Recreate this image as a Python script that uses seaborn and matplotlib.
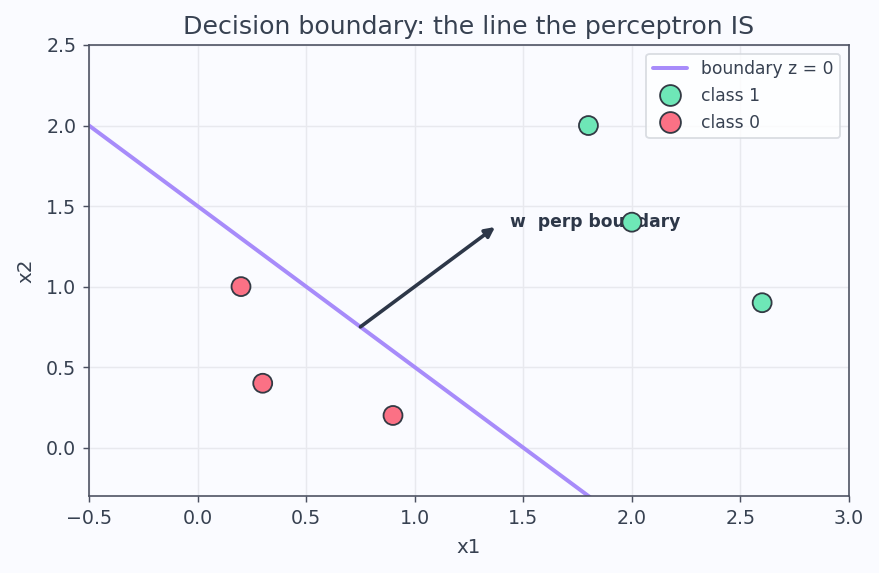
import numpy as np
import pandas as pd
import seaborn as sns
import matplotlib.pyplot as plt

# dados
class1_x1 = [1.8, 2.0, 2.6]
class1_x2 = [2.0, 1.4, 0.9]
class0_x1 = [0.2, 0.3, 0.9]
class0_x2 = [1.0, 0.4, 0.2]
w = [1.0, 1.0]
b = -1.5
line_x1 = [-0.5, 3.0]

df_pts = pd.DataFrame({
    'x1': class1_x1 + class0_x1,
    'x2': class1_x2 + class0_x2,
    'classe': ['class 1'] * 3 + ['class 0'] * 3,
})
df_line = pd.DataFrame({'x1': line_x1})
df_line['x2'] = -(w[0] * df_line['x1'] + b) / w[1]

bg = '#fafbff'
txt = '#374151'
sns.set_style("whitegrid", {'axes.facecolor': bg, 'figure.facecolor': bg,
                            'grid.color': '#e8e9ee', 'axes.edgecolor': '#4b5060'})
plt.rcParams['text.color'] = txt
plt.rcParams['axes.labelcolor'] = txt
plt.rcParams['xtick.color'] = txt
plt.rcParams['ytick.color'] = txt

dpi = 130
fig = plt.figure(figsize=(879 / dpi, 573 / dpi), dpi=dpi)
ax = fig.add_axes([89 / 879, 1 - 496 / 573, 760 / 879, 451 / 573])

sns.lineplot(data=df_line, x='x1', y='x2', color='#a78bfa', linewidth=2.2,
             label='boundary z = 0', ax=ax, zorder=2)
sns.scatterplot(data=df_pts, x='x1', y='x2', hue='classe',
                palette={'class 1': '#6ee7b7', 'class 0': '#fb7185'},
                s=110, edgecolor='#333a44', linewidth=1.0, ax=ax, zorder=4)

ax.annotate('', xy=(0.75 + 0.62 * w[0], 0.75 + 0.62 * w[1]), xytext=(0.75, 0.75),
            arrowprops=dict(arrowstyle='-|>', color='#2d3748', lw=2.0,
                            mutation_scale=11, shrinkA=0, shrinkB=0), zorder=3)
ax.text(1.44, 1.4, 'w  perp boundary', fontsize=9.5, fontweight='bold',
        color='#2d3748', va='center', zorder=3)

ax.set_xlim(-0.5, 3.0)
ax.set_ylim(-0.3, 2.5)
ax.set_xticks(np.arange(-0.5, 3.01, 0.5))
ax.set_yticks(np.arange(0.0, 2.51, 0.5))
ax.tick_params(labelsize=10.5, length=3.5, width=0.8, color='#4b5060',
               bottom=True, left=True)
ax.set_xlabel('x1', fontsize=11, labelpad=6)
ax.set_ylabel('x2', fontsize=11, labelpad=6)
ax.set_title('Decision boundary: the line the perceptron IS', fontsize=14, color=txt)
ax.grid(True, color='#e8e9ee', linewidth=0.8)
for s in ax.spines.values():
    s.set_color('#4b5060')
    s.set_linewidth(0.9)

leg = ax.legend(loc='upper right', fontsize=9.5, frameon=True, facecolor='white',
                edgecolor='#d1d5db', markerscale=1.1)
for t in leg.get_texts():
    t.set_color(txt)

fig.savefig('out.png', dpi=dpi, facecolor=bg)
